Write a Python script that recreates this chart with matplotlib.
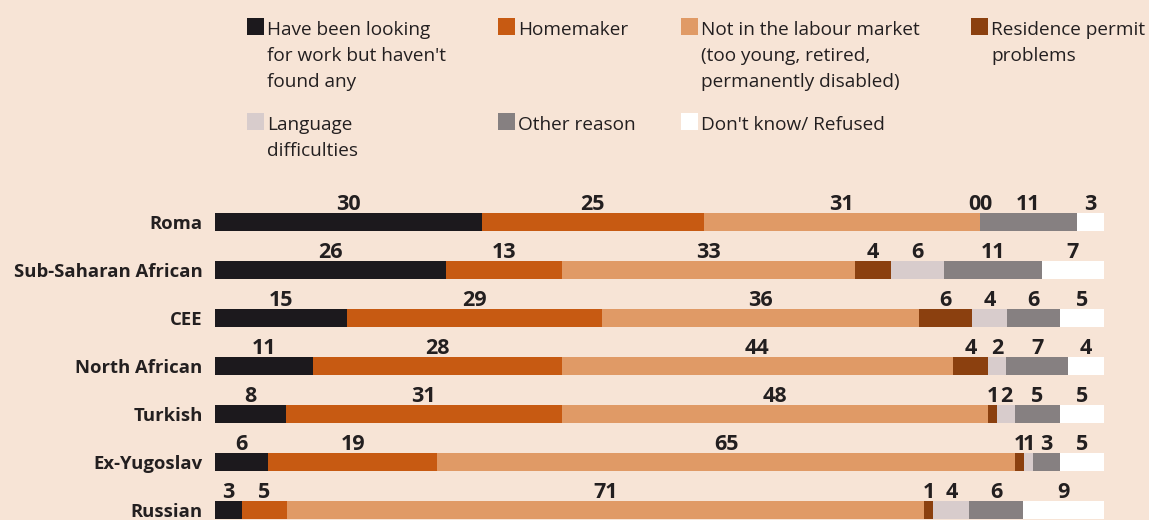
import numpy as np
import matplotlib.pyplot as plt
from matplotlib.patches import Rectangle

groups = ['Roma', 'Sub-Saharan African', 'CEE', 'North African', 'Turkish', 'Ex-Yugoslav', 'Russian']

looking = [30, 26, 15, 11, 8, 6, 3]
homemaker = [25, 13, 29, 28, 31, 19, 5]
not_labour = [31, 33, 36, 44, 48, 65, 71]
residence = [0, 4, 6, 4, 1, 1, 1]
language = [0, 6, 4, 2, 2, 1, 4]
other = [11, 11, 6, 7, 5, 3, 6]
dont_know = [3, 7, 5, 4, 5, 5, 9]

series = [looking, homemaker, not_labour, residence, language, other, dont_know]
legend_labels = ["Have been looking\nfor work but haven't\nfound any",
                 'Homemaker',
                 'Not in the labour market\n(too young, retired,\npermanently disabled)',
                 'Residence permit\nproblems',
                 'Language\ndifficulties',
                 'Other reason',
                 "Don't know/ Refused"]
colors = ['#1C191D', '#C75A12', '#E09A66', '#8B400F', '#D8CCCC', '#868081', '#FFFFFF']

bg = '#F7E4D6'
txt = '#231F20'
plt.rcParams['font.family'] = ['Open Sans', 'DejaVu Sans']

W, H = 1149, 520
fig = plt.figure(figsize=(W / 100, H / 100), dpi=100, facecolor=bg)
ax = fig.add_axes([215 / W, 0, 889 / W, 330 / H])
ax.set_facecolor(bg)

data = np.array(series, dtype=float)
shares = data / data.sum(axis=0) * 100  # rows drawn as 100% bars
y = np.arange(len(groups))
left = np.zeros(len(groups))
for j in range(len(series)):
    ax.barh(y, shares[j], left=left, height=0.36, color=colors[j])
    for i in range(len(groups)):
        v = series[j][i]
        dx = 0
        # zero-width segments next to each other: nudge labels apart
        if v == 0:
            if j + 1 < len(series) and series[j + 1][i] == 0:
                dx = -4
            elif j > 0 and series[j - 1][i] == 0:
                dx = 4
        ax.annotate(str(v), (left[i] + shares[j][i] / 2, i - 0.18),
                    xytext=(dx, 2.5), textcoords='offset points',
                    ha='center', va='baseline', fontsize=15.5,
                    fontweight='bold', color=txt)
    left += shares[j]

ax.set_xlim(0, 100)
ax.set_ylim(6 + 10 / 48, -32 / 48)
ax.set_xticks([])
ax.set_yticks(y, groups, fontsize=13.3, fontweight='bold', color=txt)
ax.tick_params(axis='y', length=0, pad=9)
for s in ax.spines.values():
    s.set_visible(False)

# legend, laid out by hand in 4 columns, one text per line
col_x = [247, 498, 681, 971]
row_y = [18, 113]
for k, lab in enumerate(legend_labels):
    px = col_x[k % 4]
    py = row_y[k // 4]
    fig.add_artist(Rectangle((px / W, 1 - (py + 17) / H), 17 / W, 17 / H,
                             transform=fig.transFigure, facecolor=colors[k],
                             edgecolor='none'))
    for n, line in enumerate(lab.split('\n')):
        fig.text((px + 20) / W, 1 - (py + 17 + 26 * n) / H, line,
                 va='baseline', ha='left', fontsize=13.7, color=txt)

fig.savefig('out.png', dpi=100, facecolor=bg)
